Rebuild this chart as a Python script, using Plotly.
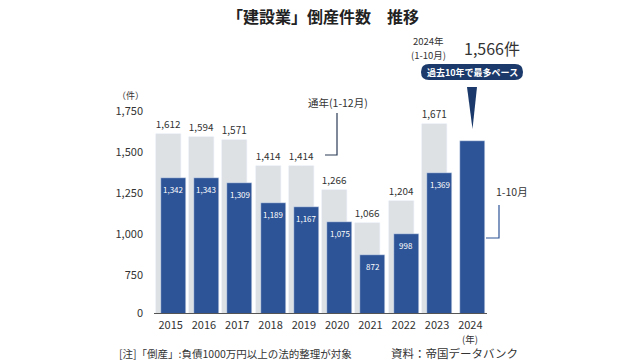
import plotly.graph_objects as go

years = ["2015", "2016", "2017", "2018", "2019", "2020", "2021", "2022", "2023", "2024"]
full_year = [1612, 1594, 1571, 1414, 1414, 1266, 1066, 1204, 1671, None]
jan_oct = [1342, 1343, 1309, 1189, 1167, 1075, 872, 998, 1369, 1566]
tick_vals = [518, 750, 1000, 1250, 1500, 1750]
tick_text = ["0", "750", "1,000", "1,250", "1,500", "1,750"]

W, H = 640, 362
L, R, T, B = 154, 153, 100, 49
PW, PH = W - L - R, H - T - B

def px(x):
    return (x - L) / PW

def py(y):
    return (H - B - y) / PH

GRAY = "#DDE1E4"
BLUE = "#2D5496"
NAVY = "#1B3A6B"
TXT = "#333333"
JP = "Noto Sans CJK JP"

fig = go.Figure()
fig.add_trace(go.Bar(
    x=years, y=full_year, marker_color=GRAY, width=0.75, offset=-0.45,
    text=[f"{v:,}" if v else "" for v in full_year], textposition="outside",
    textfont=dict(size=12, color=TXT, family=JP), cliponaxis=False,
    hoverinfo="skip"))
fig.add_trace(go.Bar(
    x=years, y=jan_oct, marker_color=BLUE, width=0.75, offset=-0.30,
    hoverinfo="skip"))

annotations = []
for i, (yr, v) in enumerate(zip(years, jan_oct)):
    if yr == "2024":
        continue
    annotations.append(dict(x=i, y=v, xref="x", yref="y", text=f"{v:,}",
                            showarrow=False, yanchor="top", yshift=-4, xshift=2.5,
                            font=dict(size=8, color="white", family=JP)))

def ann(x, y, text, size, color=TXT, xanchor="center", yanchor="middle", bold=False, align="center"):
    annotations.append(dict(x=px(x), y=py(y), xref="paper", yref="paper",
                            text=f"<b>{text}</b>" if bold else text, showarrow=False,
                            xanchor=xanchor, yanchor=yanchor, align=align, borderpad=0,
                            font=dict(size=size, color=color, family=JP)))

ann(323, 16, "「建設業」倒産件数　推移", 16, color="#222222", bold=True)
ann(130, 95, "（件）", 9)
ann(428, 41, "2024年", 9.5)
ann(428, 55.5, "(1-10月)", 9.5)
ann(492, 48, "1,566件", 16)
ann(472, 72, "過去10年で最多ペース", 9, color="white", bold=True)
ann(338, 102, "通年(1-12月)", 10.5)
ann(512, 191, "1-10月", 10.5)
ann(470, 339, "(年)", 9.5)
ann(118, 353, "[注]「倒産」:負債1000万円以上の法的整理が対象", 10.5, xanchor="left")
ann(390, 353, "資料：帝国データバンク", 11.5, xanchor="left")

def path_pts(pts, close=True):
    s = ""
    for cmd, *coords in pts:
        s += cmd + " " + " ".join(f"{px(coords[j]):.5f},{py(coords[j+1]):.5f}" for j in range(0, len(coords), 2)) + " "
    return s + ("Z" if close else "")

pill = path_pts([
    ("M", 429, 64), ("L", 515, 64), ("Q", 523, 64, 523, 72), ("Q", 523, 80, 515, 80),
    ("L", 429, 80), ("Q", 421, 80, 421, 72), ("Q", 421, 64, 429, 64)])
tri = path_pts([("M", 467, 87), ("L", 477, 87), ("L", 472.5, 129)])
shapes = [
    dict(type="path", path=pill, xref="paper", yref="paper", fillcolor=NAVY, line=dict(width=0), layer="below"),
    dict(type="path", path=tri, xref="paper", yref="paper", fillcolor=NAVY, line=dict(width=0)),
    dict(type="path", path=path_pts([("M", 337, 113), ("L", 337, 155), ("L", 325, 155)], close=False),
         xref="paper", yref="paper", line=dict(color="#2B3A55", width=1.2)),
    dict(type="path", path=path_pts([("M", 499, 205), ("L", 499, 238), ("L", 486, 238)], close=False),
         xref="paper", yref="paper", line=dict(color=BLUE, width=1.2)),
]

fig.update_layout(
    width=W, height=H, margin=dict(l=L, r=R, t=T, b=B),
    paper_bgcolor="white", plot_bgcolor="white",
    barmode="overlay", bargap=0, showlegend=False,
    annotations=annotations, shapes=shapes,
    font=dict(family=JP, color=TXT),
    xaxis=dict(type="category", range=[-0.5, 9.5], showgrid=False, showline=True,
               linecolor="#555555", linewidth=1, ticks="", tickfont=dict(size=11, color=TXT, family=JP),
               ticklabelstandoff=2, fixedrange=True),
    yaxis=dict(range=[518, 1817], showgrid=False, showline=False, zeroline=False,
               tickvals=tick_vals, ticktext=tick_text, ticks="",
               tickfont=dict(size=11, color=TXT, family=JP), ticklabelstandoff=10,
               fixedrange=True),
)

fig.write_html("out.html", config={"displayModeBar": False},
               post_script="document.body.style.margin='0';document.body.style.overflow='hidden';")
